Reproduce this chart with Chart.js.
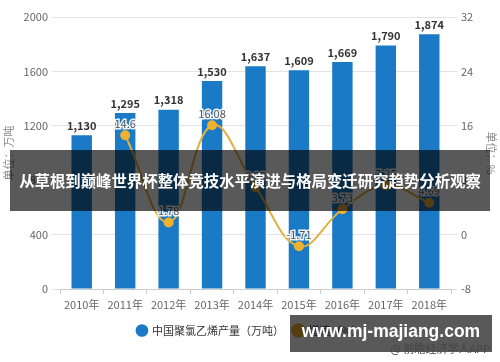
<!DOCTYPE html>
<html>
<head>
<meta charset="utf-8">
<script src="https://cdn.jsdelivr.net/npm/chart.js@4/dist/chart.umd.min.js"></script>
<style>
  html, body { margin: 0; padding: 0; background: #fff; }
  #wrap { position: relative; width: 500px; height: 362px; font-family: "Noto Sans CJK SC", "Noto Sans", sans-serif; }
  #banner {
    position: absolute; left: 10px; top: 150px; width: 480px; height: 61px;
    background: rgba(0,0,0,0.65); color: #fff; font-weight: bold; font-size: 15.4px;
    line-height: 61px; text-align: center; white-space: nowrap; overflow: hidden;
  }
  #site {
    position: absolute; left: 290px; top: 315px; width: 202px; height: 37px;
    background: rgba(0,0,0,0.65); color: #fff; font-weight: bold; font-size: 17.5px;
    line-height: 32px; text-align: center; white-space: nowrap;
    font-family: "Liberation Sans", Arial, sans-serif;
  }
  #src {
    position: absolute; right: 10px; top: 341px; font-size: 11px; line-height: 14px;
    color: #444; white-space: nowrap; z-index: 2;
  }
</style>
</head>
<body>
<div id="wrap">
  <canvas id="chart" width="500" height="362"></canvas>
  <div id="banner">从草根到巅峰世界杯整体竞技水平演进与格局变迁研究趋势分析观察</div>
  <div id="site">www.mj-majiang.com</div>
  <div id="src">@ 前瞻经济学人APP</div>
</div>
<script>
// 数据
const years = ['2010年', '2011年', '2012年', '2013年', '2014年', '2015年', '2016年', '2017年', '2018年'];
const produccion = [1130, 1295, 1318, 1530, 1637, 1609, 1669, 1790, 1874];
const crecimiento = [null, 14.6, 1.78, 16.08, 6.99, -1.71, 3.73, 7.25, 4.69];
const ticksIzq = [0, 400, 800, 1200, 1600, 2000];
const ticksDer = [-8, 0, 8, 16, 24, 32];

const fuente = '"Noto Sans CJK SC", "Noto Sans", sans-serif';

const etiquetas = {
    id: 'etiquetas',
    afterDatasetsDraw(chart) {
        const ctx = chart.ctx;
        ctx.save();
        ctx.textAlign = 'center';
        ctx.textBaseline = 'bottom';

        const barras = chart.getDatasetMeta(0);
        ctx.font = 'bold 11px ' + fuente;
        ctx.fillStyle = '#333';
        barras.data.forEach((bar, i) => {
            ctx.fillText(produccion[i].toLocaleString('en-US'), bar.x, bar.y - 4);
        });

        const linea = chart.getDatasetMeta(1);
        ctx.font = '11px ' + fuente;
        ctx.lineWidth = 3;
        ctx.strokeStyle = 'rgba(255,255,255,0.9)';
        ctx.fillStyle = '#555';
        linea.data.forEach((pt, i) => {
            if (crecimiento[i] === null) return;
            ctx.strokeText(String(crecimiento[i]), pt.x, pt.y - 6);
            ctx.fillText(String(crecimiento[i]), pt.x, pt.y - 6);
        });
        ctx.restore();
    }
};

const ctx = document.getElementById('chart').getContext('2d');
new Chart(ctx, {
    data: {
        labels: years,
        datasets: [
            {
                type: 'bar',
                label: '中国聚氯乙烯产量（万吨）',
                data: produccion,
                backgroundColor: '#1a7ac6',
                yAxisID: 'y',
                barPercentage: 0.47,
                categoryPercentage: 1,
                pointStyle: 'circle',
                order: 2
            },
            {
                type: 'line',
                label: '增速（%）',
                data: crecimiento,
                borderColor: '#e2b13e',
                backgroundColor: '#efb22e',
                borderWidth: 2,
                pointRadius: 4,
                pointBackgroundColor: '#efb22e',
                pointBorderColor: '#efb22e',
                tension: 0.4,
                spanGaps: false,
                yAxisID: 'y1',
                order: 1
            }
        ]
    },
    options: {
        responsive: false,
        animation: false,
        layout: { padding: { top: 17, bottom: 16, left: 0, right: 0 } },
        plugins: {
            legend: {
                position: 'bottom',
                labels: {
                    usePointStyle: true,
                    boxWidth: 9,
                    boxHeight: 9,
                    padding: 10,
                    color: '#333',
                    font: { size: 11, family: fuente },
                    sort: (a, b) => a.datasetIndex - b.datasetIndex
                }
            },
            tooltip: { enabled: false }
        },
        scales: {
            x: {
                offset: true,
                grid: { display: true, drawOnChartArea: false, offset: true, tickLength: 5, color: '#ccc' },
                border: { color: '#ccc' },
                ticks: { color: '#666', font: { size: 11, family: fuente }, padding: 4 },
                afterFit: s => { s.height = 26; }
            },
            y: {
                position: 'left',
                min: 0,
                max: 2000,
                afterBuildTicks: s => { s.ticks = ticksIzq.map(v => ({ value: v })); },
                grid: { color: '#e3e3e3', tickLength: 8 },
                border: { display: false },
                ticks: { color: '#666', font: { size: 11, family: fuente }, padding: 4, callback: v => String(v) },
                title: { display: true, text: '单位：万吨', color: '#888', font: { size: 11, family: fuente }, padding: 2 },
                afterFit: s => { s.width = 60; }
            },
            y1: {
                position: 'right',
                min: -8,
                max: 32,
                afterBuildTicks: s => { s.ticks = ticksDer.map(v => ({ value: v })); },
                grid: { display: true, drawOnChartArea: false, color: '#e3e3e3', tickLength: 6 },
                border: { display: false },
                ticks: { color: '#666', font: { size: 11, family: fuente }, padding: 4, callback: v => String(v) },
                title: { display: true, text: '单位：%', color: '#888', font: { size: 11, family: fuente }, padding: 2 },
                afterFit: s => { s.width = 49; }
            }
        }
    },
    plugins: [etiquetas]
});
</script>
</body>
</html>
